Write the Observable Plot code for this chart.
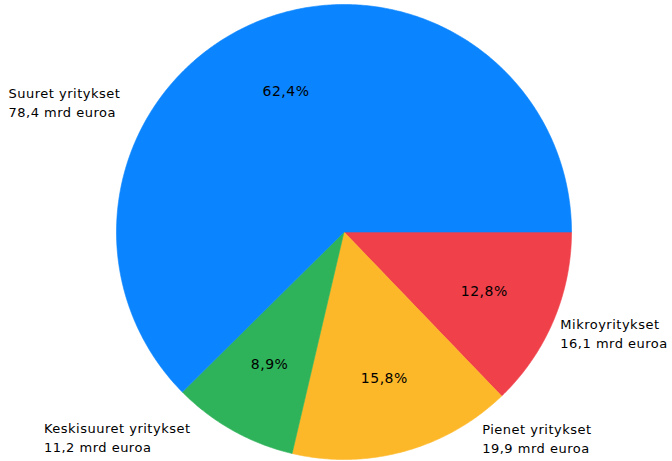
<!DOCTYPE html>
<html>
<head>
<meta charset="utf-8">
<script src="https://cdn.jsdelivr.net/npm/d3@7"></script>
<script src="https://cdn.jsdelivr.net/npm/@observablehq/plot@0.6"></script>
<style>
  html, body { margin: 0; padding: 0; background: #fff; }
  #chart svg text { letter-spacing: 0.5px; }
</style>
</head>
<body>
<div id="chart"></div>
<script>
// Data
const categories = ["Mikroyritykset", "Pienet yritykset", "Keskisuuret yritykset", "Suuret yritykset"];
const values = [16.1, 19.9, 11.2, 78.4]; // mrd euroa
const colors = ["#f0414b", "#fdb82a", "#2fb35a", "#0a84ff"];

const fmt1 = v => d3.format(".1f")(v).replace(".", ",");
const total = d3.sum(values);

// slices, angles clockwise from east (screen), radians
let acc = 0;
const slices = categories.map((name, i) => {
  const a0 = acc / total * 2 * Math.PI;
  acc += values[i];
  const a1 = acc / total * 2 * Math.PI;
  return {
    name, value: values[i], a0, a1, mid: (a0 + a1) / 2,
    pct: fmt1(values[i] / total * 100) + "%",
    label: name + "\n" + fmt1(values[i]) + " mrd euroa"
  };
});

// polygon outline of each slice (geometry only)
const pts = [];
for (const s of slices) {
  pts.push({name: s.name, x: 0, y: 0});
  const n = Math.max(4, Math.ceil((s.a1 - s.a0) / (Math.PI / 360)));
  for (let k = 0; k <= n; k++) {
    const a = s.a0 + (s.a1 - s.a0) * k / n;
    pts.push({name: s.name, x: Math.cos(a), y: -Math.sin(a)});
  }
  pts.push({name: s.name, x: 0, y: 0});
}

// label placement (layout only): offset in px from the slice's outer mid-point
const labelOffsets = {
  "Mikroyritykset": [7, 11],
  "Pienet yritykset": [78, -14],
  "Keskisuuret yritykset": [-189, 6],
  "Suuret yritykset": [-249, 80]
};

const chart = Plot.plot({
  width: 672,
  height: 461,
  margin: 0,
  x: {domain: [-1, 1], range: [116, 571], axis: null},
  y: {domain: [-1, 1], range: [459, 4], axis: null},
  color: {domain: categories, range: colors},
  style: {fontFamily: "'DejaVu Sans', Verdana, sans-serif", fontSize: "13px", background: "#fff"},
  marks: [
    Plot.line(pts, {x: "x", y: "y", z: "name", fill: "name", stroke: "name", strokeWidth: 0.6, curve: "linear"}),
    Plot.text(slices, {
      x: d => 0.67 * Math.cos(d.mid),
      y: d => -0.67 * Math.sin(d.mid),
      text: "pct", fill: "#000", fontSize: 14
    }),
    ...slices.map(s => Plot.text([s], {
      x: d => Math.cos(d.mid),
      y: d => -Math.sin(d.mid),
      text: "label",
      textAnchor: "start",
      lineAnchor: "middle",
      lineHeight: 1.45,
      fill: "#000",
      fontSize: 13,
      dx: labelOffsets[s.name][0],
      dy: labelOffsets[s.name][1]
    }))
  ]
});
document.getElementById("chart").appendChild(chart);
</script>
</body>
</html>
